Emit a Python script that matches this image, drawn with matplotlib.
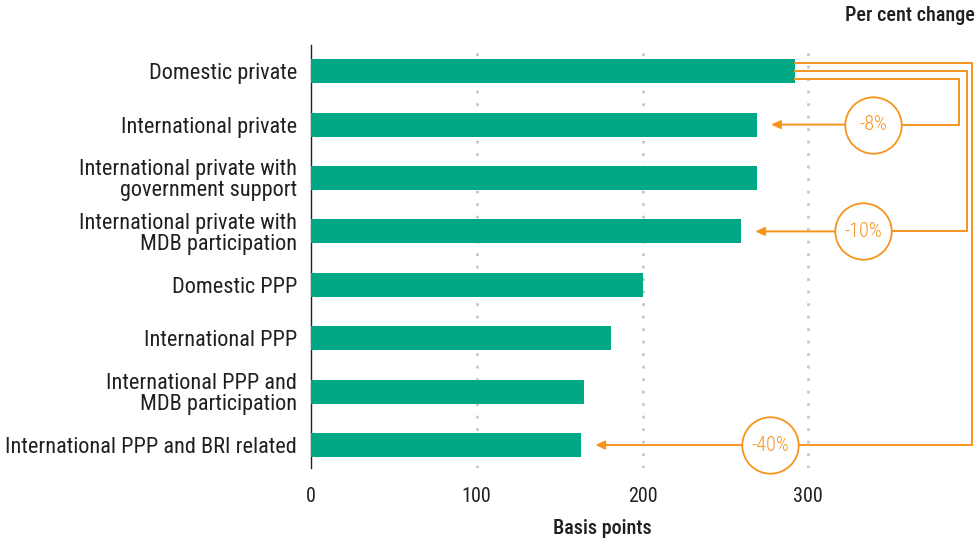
import matplotlib
matplotlib.use("Agg")
import matplotlib.pyplot as plt

plt.rcParams['font.family'] = ['Roboto Condensed', 'Roboto', 'DejaVu Sans']

# data
categories = [
    "Domestic private",
    "International private",
    "International private with\ngovernment support",
    "International private with\nMDB participation",
    "Domestic PPP",
    "International PPP",
    "International PPP and\nMDB participation",
    "International PPP and BRI related",
]
basis_points = [292, 269, 269, 259.5, 200, 181, 165, 163]

# per cent change callouts: (target category index, label)
change_targets = [1, 3, 7]
change_labels = ["-8%", "-10%", "-40%"]

green = "#00a886"
orange = "#f7941d"
text_col = "#231f20"

fig = plt.figure(figsize=(9.79, 5.41), dpi=100)
ax = fig.add_axes([311 / 979, 1 - 468 / 541, (974 - 311) / 979, (468 - 45) / 541])

y = list(range(len(categories)))
ax.barh(y, basis_points, height=0.45, color=green, zorder=3)

ax.set_xlim(0, 400)
ax.set_ylim(7.43, -0.49)
ax.set_xticks([0, 100, 200, 300])
ax.set_yticks(y)
ax.set_yticklabels(categories, fontsize=16, color=text_col, linespacing=1.0)
ax.tick_params(axis="both", length=0)
ax.tick_params(axis="y", pad=10)
ax.tick_params(axis="x", pad=14, labelsize=14.5, labelcolor=text_col)

for s in ["top", "right", "bottom"]:
    ax.spines[s].set_visible(False)
ax.spines["left"].set_linewidth(1.0)
ax.spines["left"].set_color("#222222")

for gx in [100, 200, 300]:
    ax.axvline(gx, color="#c8c8c8", lw=2, ls=(0, (1, 3.5)), zorder=1)

ax.set_xlabel("Basis points", fontsize=14.5, color=text_col, fontweight="medium")
ax.xaxis.set_label_coords(0.44, -0.12)
fig.text(0.996, 0.972, "Per cent change", ha="right", va="center",
         fontsize=14.5, color=text_col, fontweight="medium")

# callout connectors from the top bar
start_x = basis_points[0]
y_offsets = [0.15, 0.0, -0.15]
right_x = [391, 395.8, 398.8]
circle_x = [339, 333, 277]
for k, idx in enumerate(change_targets):
    y0 = y[0] + y_offsets[k]
    yt = y[idx]
    ax.plot([start_x, right_x[k], right_x[k], circle_x[k]], [y0, y0, yt, yt],
            color=orange, lw=1.4, clip_on=False, zorder=4, solid_joinstyle="miter")
    tip = basis_points[idx] + 8.5
    ax.annotate("", xy=(tip, yt), xytext=(circle_x[k], yt),
                arrowprops=dict(arrowstyle="-|>,head_length=0.55,head_width=0.25",
                                color=orange, lw=1.4, shrinkA=0, shrinkB=0),
                zorder=4, annotation_clip=False)
    ax.scatter([circle_x[k]], [yt], s=1650, facecolor="white", edgecolor=orange,
               linewidth=1.3, zorder=5, clip_on=False)
    ax.text(circle_x[k], yt, change_labels[k], ha="center", va="center",
            fontsize=14.5, color=orange, fontweight="light", zorder=6)

fig.savefig("out.png", dpi=100)
